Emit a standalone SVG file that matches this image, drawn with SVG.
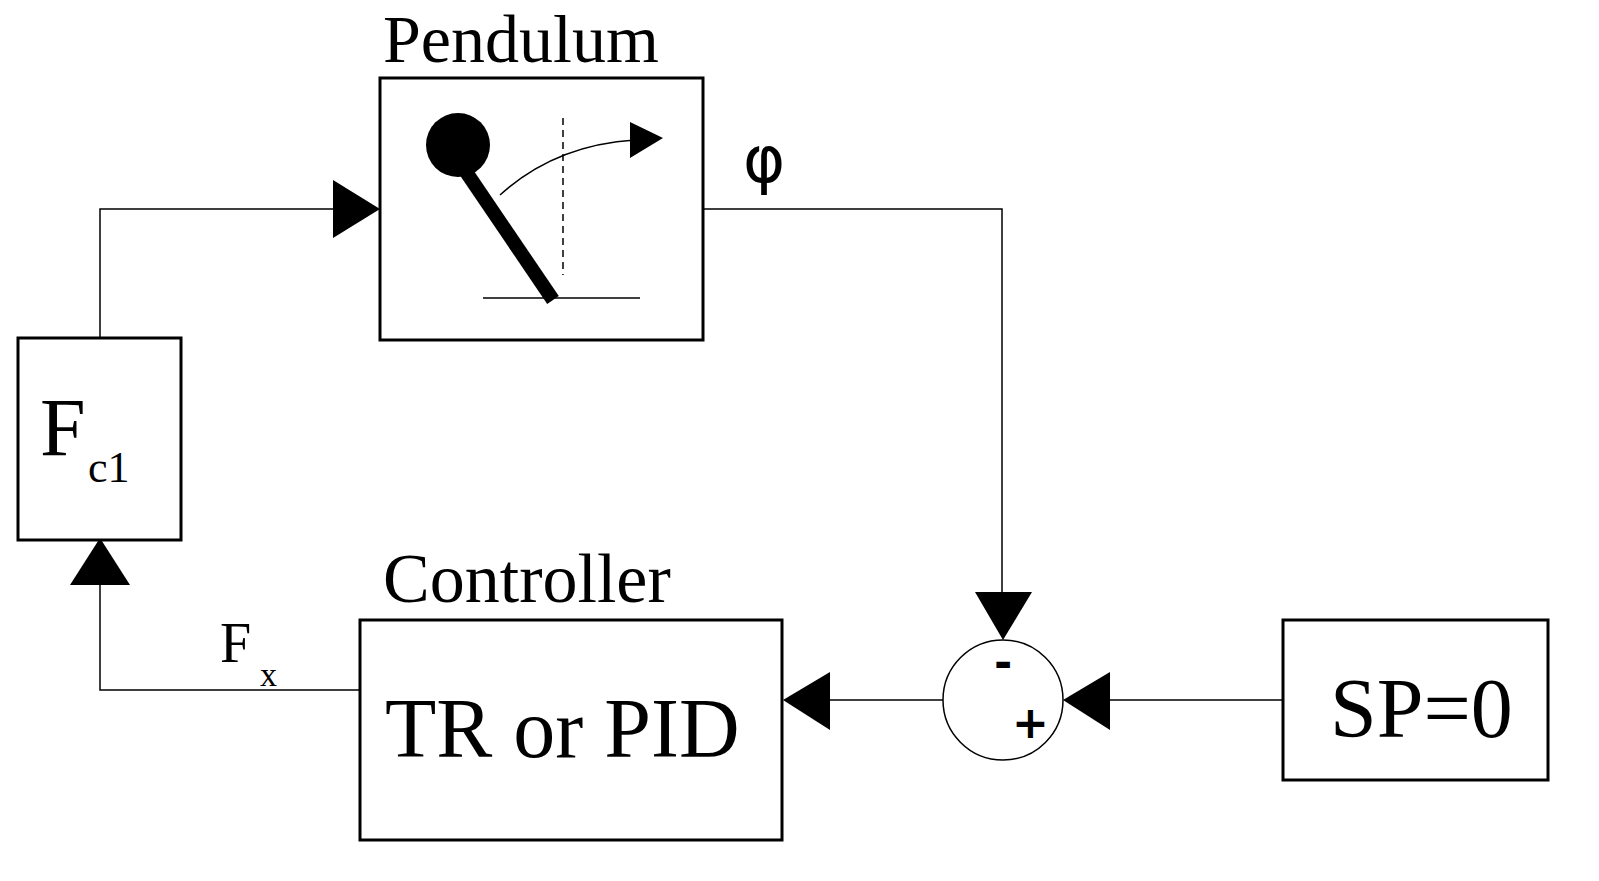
<svg xmlns="http://www.w3.org/2000/svg" width="1599" height="881" viewBox="0 0 1599 881">
<style>
.box{fill:#fff;stroke:#000;stroke-width:3}
.ln{fill:none;stroke:#000;stroke-width:1.5}
.s{font-family:"Liberation Serif",serif;fill:#000}
.a{font-family:"DejaVu Sans",sans-serif;fill:#000}
</style>
<rect width="1599" height="881" fill="#fff"/>
<g id="connectors">
<polyline class="ln" points="703,209 1002,209 1002,600"/>
<polygon points="975,592 1032,592 1003,640"/>
<line class="ln" x1="1283" y1="700" x2="1100" y2="700"/>
<polygon points="1063,700 1110,672 1110,730"/>
<line class="ln" x1="943" y1="700" x2="820" y2="700"/>
<polygon points="783,700 830,672 830,730"/>
<polyline class="ln" points="360,690 100,690 100,580"/>
<polygon points="100,538 70,585 130,585"/>
<polyline class="ln" points="100,338 100,209 340,209"/>
<polygon points="380,209 333,180 333,238"/>
<text class="a" x="743" y="182" font-size="64">φ</text>
<text class="s" x="220" y="662" font-size="56">F</text>
<text class="s" x="260" y="686" font-size="34">x</text>
</g>
<g id="pendulum">
<text class="s" x="383" y="62" font-size="68">Pendulum</text>
<rect class="box" x="380" y="78" width="323" height="262"/>
<line x1="458" y1="160" x2="553" y2="300" stroke="#000" stroke-width="14"/>
<circle cx="458" cy="145" r="32"/>
<line x1="483" y1="298" x2="640" y2="298" stroke="#000" stroke-width="1.5"/>
<line x1="563" y1="118" x2="563" y2="275" stroke="#000" stroke-width="1.5" stroke-dasharray="7,5"/>
<path class="ln" d="M500,195 Q555,145 635,140"/>
<polygon points="630,122 663,138 630,158"/>
</g>
<g id="fc1">
<rect class="box" x="18" y="338" width="163" height="202"/>
<text class="s" x="40" y="455" font-size="82">F</text>
<text class="s" x="88" y="482" font-size="44">c1</text>
</g>
<g id="controller">
<text class="s" x="383" y="602" font-size="70">Controller</text>
<rect class="box" x="360" y="620" width="422" height="220"/>
<text class="s" x="385" y="757" font-size="84">TR or PID</text>
</g>
<g id="sum">
<circle cx="1003" cy="700" r="60" fill="#fff" stroke="#000" stroke-width="1.5"/>
<text class="a" x="994" y="678" font-size="44" font-weight="bold">-</text>
<text class="a" x="1012" y="738" font-size="44" font-weight="bold">+</text>
</g>
<g id="sp">
<rect class="box" x="1283" y="620" width="265" height="160"/>
<text class="s" x="1330" y="737" font-size="84">SP=0</text>
</g>
</svg>
